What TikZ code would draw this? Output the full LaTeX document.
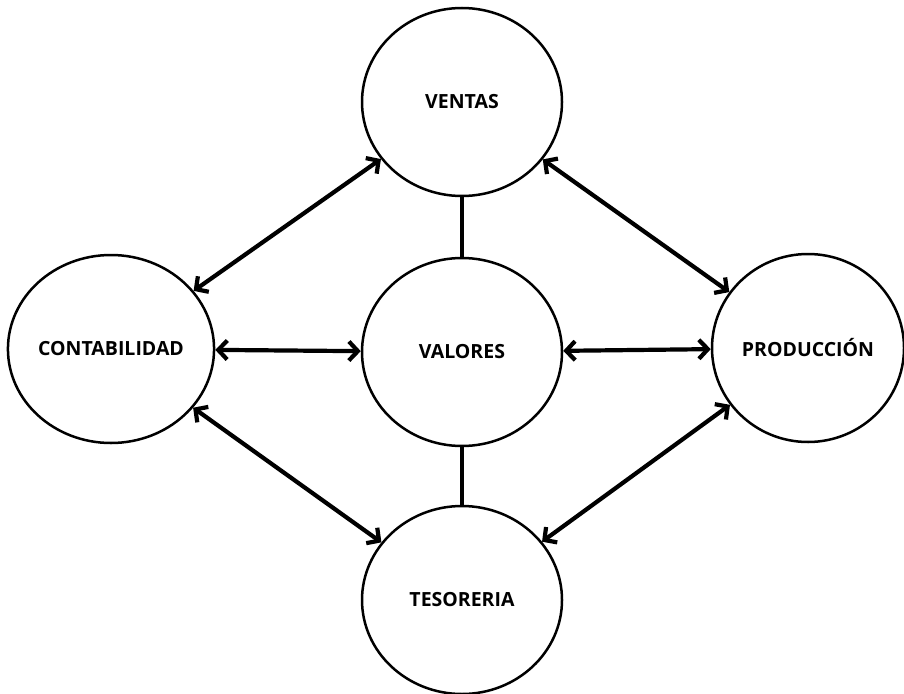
\documentclass[tikz,border=0pt]{standalone}
\usepackage{fontspec}
\setmainfont{Open Sans}
\usetikzlibrary{shapes.geometric,arrows.meta}
\tikzset{
  area/.style={ellipse, draw=black, line width=2.5pt, minimum width=200pt,
    minimum height=188pt, inner sep=0pt, font=\bfseries\fontsize{19.5}{22}\selectfont},
  link/.style={line width=4.2pt, {Straight Barb[length=9pt,width=19pt]}-{Straight Barb[length=9pt,width=19pt]}},
  tie/.style={line width=4pt}
}
\begin{document}
\begin{tikzpicture}[x=1pt,y=-1pt]
  \useasboundingbox[fill=white] (0,0) rectangle (904,693);
  \node[area] (ventas) at (462,102) {VENTAS};
  \node[area] (valores) at (462,352) {VALORES};
  \node[area] (conta) at (111,349) {CONTABILIDAD};
  \node[area, minimum width=192pt] (prod) at (808,348) {PRODUCCIÓN};
  \node[area] (teso) at (462,600) {TESORERIA};

  \draw[link] (conta) -- (ventas);
  \draw[link] (ventas) -- (prod);
  \draw[link] (conta) -- (teso);
  \draw[link] (prod) -- (teso);
  \draw[link] (conta) -- (valores);
  \draw[link] (valores) -- (prod);
  \draw[tie] (ventas) -- (valores);
  \draw[tie] (valores) -- (teso);
\end{tikzpicture}
\end{document}
